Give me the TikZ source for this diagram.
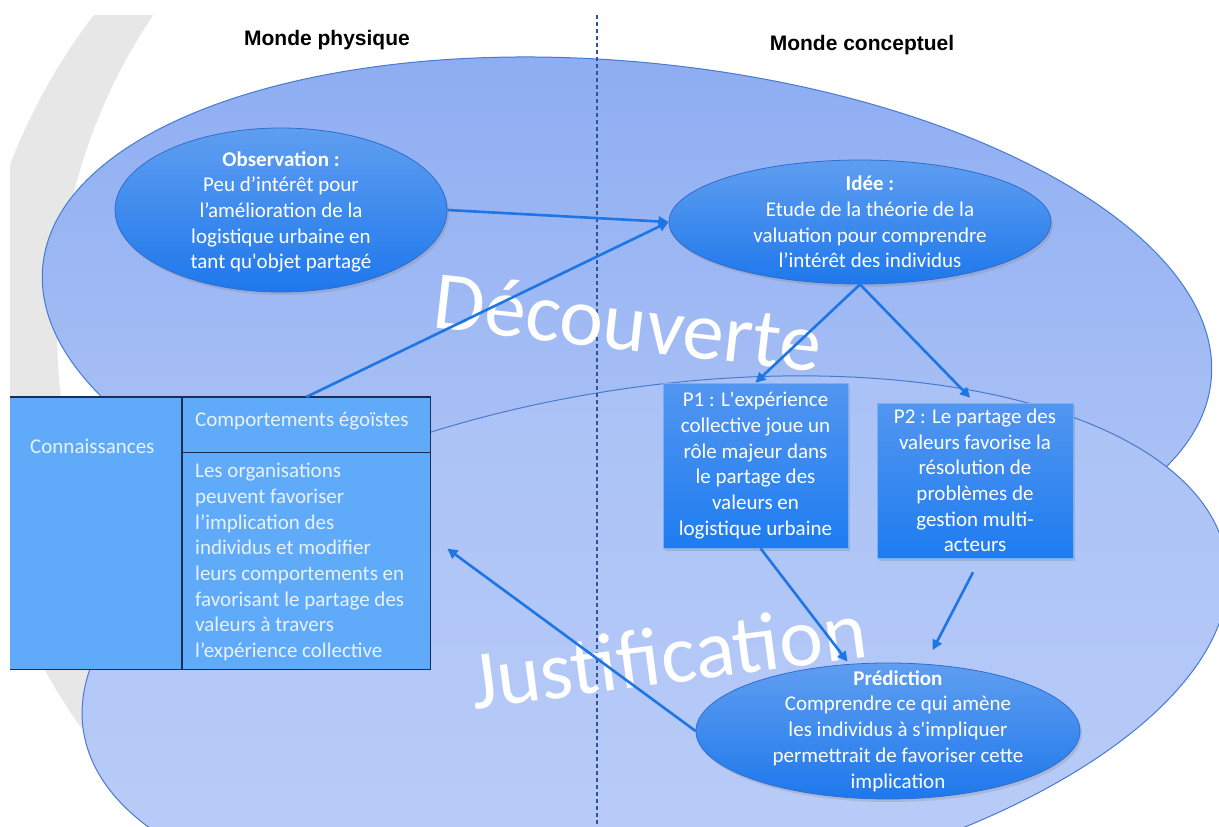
\documentclass[tikz,border=0pt]{standalone}
\usepackage{fontspec}
\setmainfont{Carlito}[Ligatures=TeXOff]
\newfontfamily\headfont{Liberation Sans}
\usetikzlibrary{arrows.meta,shapes.geometric,shadows,calc}

\definecolor{greyArc}{RGB}{231,231,231}
\definecolor{zoneEdge}{RGB}{72,122,208}
\definecolor{zoneTopA}{RGB}{140,172,242}
\definecolor{zoneBotA}{RGB}{180,200,246}
\definecolor{zoneTopB}{RGB}{170,194,246}
\definecolor{zoneBotB}{RGB}{188,206,248}
\definecolor{divBlue}{RGB}{47,85,151}
\definecolor{linkBlue}{RGB}{30,118,228}
\definecolor{bubTop}{RGB}{95,158,240}
\definecolor{bubBot}{RGB}{30,120,236}
\definecolor{bubEdge}{RGB}{50,108,205}
\definecolor{boxTop}{RGB}{82,150,240}
\definecolor{boxBot}{RGB}{30,124,240}
\definecolor{boxEdge}{RGB}{120,175,245}
\definecolor{cellFill}{RGB}{96,170,250}
\definecolor{cellEdge}{RGB}{28,45,85}
\definecolor{txtLight}{RGB}{232,242,255}

\tikzset{
  zone/.style={draw=zoneEdge, line width=1pt},
  divider/.style={draw=divBlue, line width=1.2pt, dash pattern=on 4pt off 3pt},
  head/.style={font=\headfont\bfseries\fontsize{21}{25}\selectfont, inner sep=0pt},
  bigword/.style={text=white, font=\fontsize{83}{83}\selectfont, inner sep=0pt},
  bubble/.style={ellipse, draw=bubEdge, line width=0.8pt, top color=bubTop, bottom color=bubBot,
    inner sep=0pt, drop shadow={opacity=0.25, shadow xshift=2pt, shadow yshift=-3pt}},
  bubtext/.style={text=white, align=center, inner sep=0pt, font=\fontsize{21}{25.7}\selectfont},
  hypo/.style={rectangle, draw=boxEdge, line width=0.6pt, top color=boxTop, bottom color=boxBot,
    inner sep=0pt, text=white, align=center, font=\fontsize{21}{25.7}\selectfont,
    drop shadow={opacity=0.3, shadow xshift=2pt, shadow yshift=-3pt}},
  cell/.style={rectangle, fill=cellFill, inner sep=0pt, anchor=north west},
  grid/.style={draw=cellEdge, line width=1.6pt},
  celltext/.style={text=txtLight, inner sep=0pt, font=\fontsize{21}{25.7}\selectfont},
  link/.style={draw=linkBlue, line width=2.6pt, -{Triangle[length=10pt,width=10pt]}}
}

\begin{document}
\begin{tikzpicture}[x=1pt,y=-1pt]
\useasboundingbox (0,0) rectangle (1219,827);
\fill[white] (0,0) rectangle (1219,827);

% grey crescent on the left border of the slide
\begin{scope}
  \clip (10,15) rectangle (400,827);
  \fill[greyArc, even odd rule] (570.8,380) circle[radius=600.5] (620,330) circle[radius=563];
\end{scope}

% the two zones
\draw[zone, top color=zoneTopA, bottom color=zoneBotA, rotate around={-5.6:(627,323)}]
  (627,323) ellipse[x radius=587, y radius=261];
\draw[zone, top color=zoneTopB, bottom color=zoneBotB, rotate around={8.5:(655,645)}]
  (655,645) ellipse[x radius=578, y radius=258];

% physical / conceptual divider
\coordinate (div-top) at (597,15);
\coordinate (div-bot) at (597,827);
\draw[divider] (div-top) -- (div-bot);

\node[head] (phys) at (327,40) {Monde physique};
\node[head] (conc) at (862,45) {Monde conceptuel};

\node[bigword, rotate=-6.5] (decouv) at (628,322) {Découverte};
\node[bigword, rotate=7.5] (justif) at (668,655) {Justification};

% knowledge table
\node[cell, minimum width=172, minimum height=272] (conn) at (10,397) {};
\node[cell, minimum width=248, minimum height=55] (ego) at (182,397) {};
\node[cell, minimum width=248, minimum height=217] (org) at (182,452) {};
\draw[grid] (conn.north west) -- (ego.north east) -- (org.south east) -- (conn.south west);
\draw[grid] (ego.north west) -- (org.south west);
\draw[grid] (ego.south west) -- (ego.south east);
\node[celltext, anchor=west] (conn-t) at (30,446) {Connaissances};
\node[celltext, anchor=west] (ego-t) at (195,421) {Comportements égoïstes};
\node[celltext, anchor=west, align=left] (org-t) at (195,562)
  {Les organisations\\peuvent favoriser\\l’implication des\\individus et modifier\\leurs comportements en\\favorisant le partage des\\valeurs à travers\\l’expérience collective};

% observation, idea, prediction
\node[bubble, minimum width=332, minimum height=164] (obs) at (281,210) {};
\node[bubtext] (obs-t) at (281,212)
  {\textbf{Observation :}\\Peu d’intérêt pour\\l’amélioration de la\\logistique urbaine en\\tant qu'objet partagé};

\node[bubble, minimum width=382, minimum height=124] (idee) at (860,222) {};
\node[bubtext] (idee-t) at (870,222)
  {\textbf{Idée :}\\Etude de la théorie de la\\valuation pour comprendre\\l’intérêt des individus};

\node[bubble, minimum width=384, minimum height=136] (pred) at (888,731) {};
\node[bubtext] (pred-t) at (898,731)
  {\textbf{Prédiction}\\Comprendre ce qui amène\\les individus à s'impliquer\\permettrait de favoriser cette\\implication};

% hypotheses
\node[hypo, minimum width=185, minimum height=165] (p1) at (755.5,465.5)
  {P1 : L'expérience\\collective joue un\\rôle majeur dans\\le partage des\\valeurs en\\logistique urbaine};
\node[hypo, minimum width=196, minimum height=155] (p2) at (975,480.5)
  {P2 : Le partage des\\valeurs favorise la\\résolution de\\problèmes de\\gestion multi-\\acteurs};

% connectors
\draw[link] (obs.east) -- (idee.west);
\draw[link] (ego.north) -- (idee.west);
\draw[link] (idee.south) -- (p1.north);
\draw[link, shorten >=7pt] (idee.south) -- (p2.north);
\draw[link, shorten >=3pt] ($(p1.south)+(5,0)$) -- (pred.120);
\draw[link] ($(p2.south)+(-2,14)$) -- ($(pred.60)+(6,-14)$);
\draw[link] (pred.west) -- ($(org.east)+(17,-12)$);
\end{tikzpicture}
\end{document}
